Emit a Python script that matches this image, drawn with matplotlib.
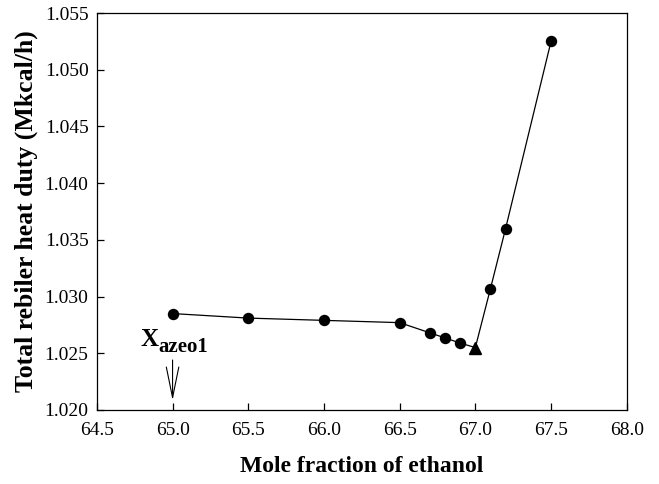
import numpy as np
import matplotlib.pyplot as plt

plt.rcParams['font.family'] = 'Liberation Serif'

# data
x_frac = [65.0, 65.5, 66.0, 66.5, 66.7, 66.8, 66.9, 67.0, 67.1, 67.2, 67.5]
duty = [1.0285, 1.0281, 1.0279, 1.0277, 1.0268, 1.02635, 1.0259, 1.0255, 1.0307, 1.0360, 1.0525]
x_min = 67.0          # minimum duty point (triangle)
x_azeo = 65.0         # azeotrope composition
x_ticks = [64.5, 65.0, 65.5, 66.0, 66.5, 67.0, 67.5, 68.0]
y_ticks = [1.020, 1.025, 1.030, 1.035, 1.040, 1.045, 1.050, 1.055]

fig = plt.figure(figsize=(6.59, 4.84), dpi=100)
ax = fig.add_axes([0.147, 0.153, 0.804, 0.820])

x = np.array(x_frac)
y = np.array(duty)
circ = x != x_min
ax.plot(x, y, color='black', lw=0.9, zorder=2)
ax.plot(x[circ], y[circ], 'o', color='black', ms=7.2, zorder=3)
ax.plot(x[~circ], y[~circ], '^', color='black', ms=9, zorder=3)

ax.set_xlim(64.5, 68.0)
ax.set_ylim(1.020, 1.055)
ax.set_xticks(x_ticks)
ax.set_yticks(y_ticks)
ax.set_xticklabels(['%.1f' % v for v in x_ticks])
ax.set_yticklabels(['%.3f' % v for v in y_ticks])
ax.tick_params(direction='in', length=5, width=0.9, labelsize=14,
               top=False, right=False)
ax.tick_params(axis='y', pad=6)
ax.tick_params(axis='x', pad=9)
for s in ax.spines.values():
    s.set_linewidth(0.9)

ax.set_xlabel('Mole fraction of ethanol', fontsize=17, fontweight='bold', labelpad=12)
ax.set_ylabel('Total rebiler heat duty (Mkcal/h)', fontsize=18.5, fontweight='bold', labelpad=5)

ax.annotate('', xy=(x_azeo, 1.0206), xytext=(x_azeo, 1.02465),
            arrowprops=dict(arrowstyle='->,head_length=2.2,head_width=0.45', lw=0.8, color='black'))
ax.text(64.905, 1.02565, 'X', fontsize=18, fontweight='bold', ha='right', va='baseline')
ax.text(64.905, 1.0251, 'azeo1', fontsize=15, fontweight='bold', ha='left', va='baseline')

fig.savefig('out.png', dpi=100)
